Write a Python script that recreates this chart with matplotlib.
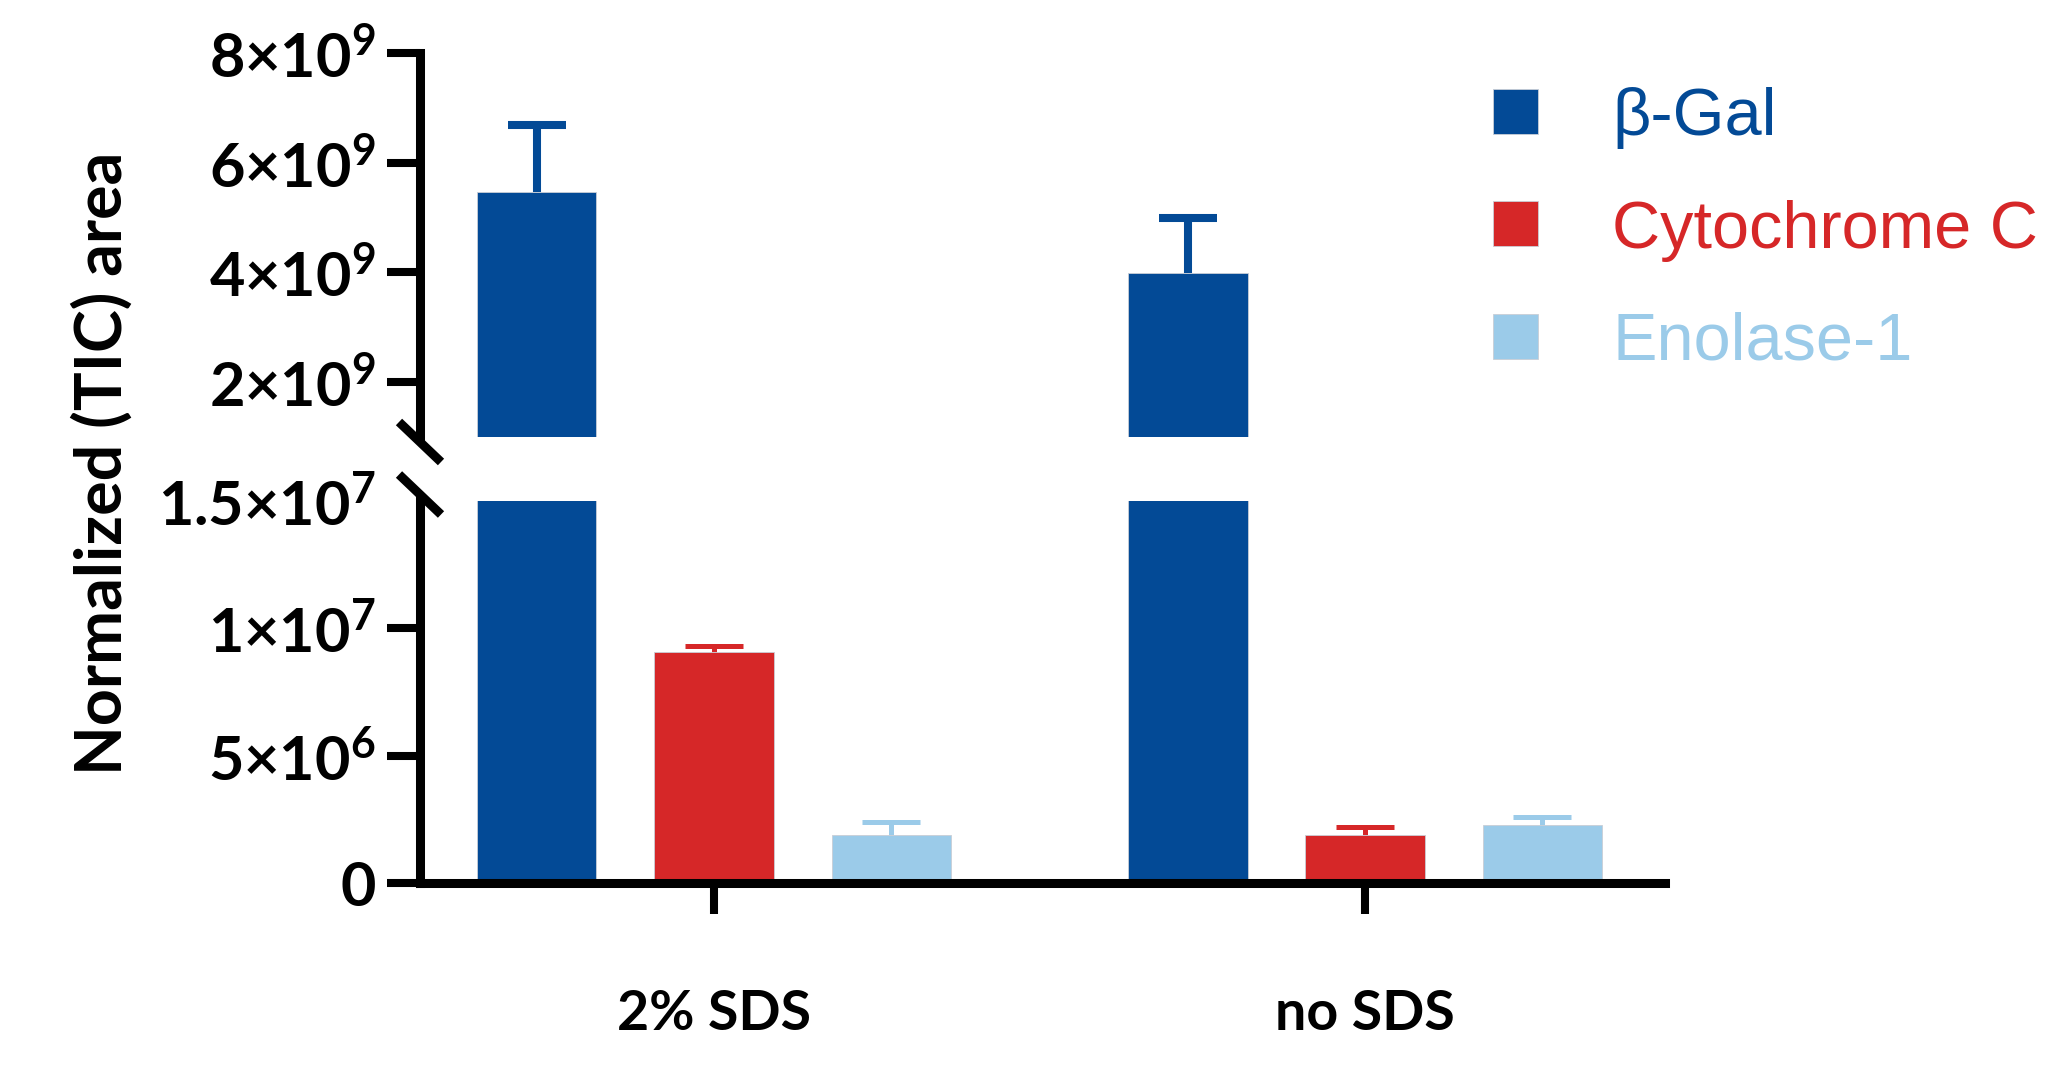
import matplotlib
matplotlib.use('Agg')
from matplotlib import pyplot as plt
from matplotlib.patches import Rectangle
import numpy as np

# group labels and series
groups = ['2% SDS', 'no SDS']
series = ['β-Gal', 'Cytochrome C', 'Enolase-1']
colors = ['#034a96', '#d62728', '#9bcbe9']

# mean and upper SEM for each series, per group
gal_mean = [5.47e9, 3.99e9]
gal_err = [1.21e9, 1.00e9]
cyt_mean = [9.07e6, 1.89e6]
cyt_err = [0.23e6, 0.30e6]
eno_mean = [1.89e6, 2.28e6]
eno_err = [0.52e6, 0.30e6]

means = [gal_mean, cyt_mean, eno_mean]
errs = [gal_err, cyt_err, eno_err]

# y ticks for the two halves of the broken axis
top_ticks = [2e9, 4e9, 6e9, 8e9]
top_labels = [r'$2{\times}10^{9}$', r'$4{\times}10^{9}$', r'$6{\times}10^{9}$', r'$8{\times}10^{9}$']
bot_ticks = [0, 5e6, 1e7, 1.5e7]
bot_labels = [r'$0$', r'$5{\times}10^{6}$', r'$1{\times}10^{7}$', r'$1.5{\times}10^{7}$']

plt.rcParams['font.family'] = ['Lato', 'DejaVu Sans']
plt.rcParams['font.weight'] = 'bold'
plt.rcParams['mathtext.fontset'] = 'custom'
plt.rcParams['mathtext.rm'] = 'Lato:bold'
plt.rcParams['mathtext.it'] = 'Lato:bold'
plt.rcParams['mathtext.bf'] = 'Lato:bold'

W, H = 2048, 1070
fig = plt.figure(figsize=(W / 100, H / 100), dpi=100)

# axes boxes in pixels: x 420..1665, top half 53..437, bottom half 501..883
def box(x0, x1, y0, y1):
    return [x0 / W, 1 - y1 / H, (x1 - x0) / W, (y1 - y0) / H]

ax_top = fig.add_axes(box(420, 1665, 53, 437))
ax_bot = fig.add_axes(box(420, 1665, 501, 883))

x = np.arange(len(groups))
bar_w = 0.183
pitch = 0.272
lw = 6.5

for ax in (ax_top, ax_bot):
    for i, (m, e, c) in enumerate(zip(means, errs, colors)):
        xi = x + (i - 1) * pitch
        m = np.array(m)
        e = np.array(e)
        ax.bar(xi, m, width=bar_w, color=c, edgecolor='#c9ced6', linewidth=0.6, zorder=2)
        ew = 5.8 if i == 0 else 3.6
        # upper error only: stem plus a cap at the top end
        ax.errorbar(xi, m, yerr=[np.zeros(len(e)), e], fmt='none', ecolor=c,
                    elinewidth=ew, capsize=0, zorder=1)
        ax.plot(xi, m + e, ls='none', marker='_', ms=42, mew=ew, color=c, zorder=1)
    ax.set_xlim(-0.4516, 1.4608)
    for s in ['top', 'right']:
        ax.spines[s].set_visible(False)
    ax.spines['left'].set_linewidth(lw)
    ax.spines['bottom'].set_linewidth(lw)
    ax.tick_params(axis='y', length=24, width=5.8, pad=8, labelsize=44)
    ax.tick_params(axis='x', length=22, width=5.8, pad=54, labelsize=40)

ax_top.set_ylim(1e9, 8e9)
ax_top.spines['bottom'].set_visible(False)
ax_top.set_xticks([])
ax_top.set_yticks(top_ticks, labels=top_labels)

ax_bot.set_ylim(0, 1.5e7)
ax_bot.set_yticks(bot_ticks, labels=bot_labels)
ax_bot.yaxis.get_major_ticks()[-1].tick1line.set_visible(False)
ax_bot.set_xticks(x, labels=groups)

# break marks on the y axis
dx = 21 / 1245
dy_top = 20 / 384
dy_bot = 20 / 382
ax_top.plot([-dx, dx], [dy_top - 0.013, -dy_top - 0.013], transform=ax_top.transAxes,
            color='black', lw=lw, clip_on=False, solid_capstyle='butt')
ax_bot.plot([-dx, dx], [1 + dy_bot + 0.017, 1 - dy_bot + 0.017], transform=ax_bot.transAxes,
            color='black', lw=lw, clip_on=False, solid_capstyle='butt')

fig.text(102 / W, 1 - 463 / H, 'Normalized (TIC) area', rotation=90,
         ha='center', va='center', fontsize=46.5, fontweight='bold')

# legend: coloured squares with coloured names
for i, (name, c) in enumerate(zip(series, colors)):
    yc = 111 + i * 112.5
    fig.patches.append(Rectangle((1493 / W, 1 - (yc + 22.5) / H), 45 / W, 45 / H,
                                 transform=fig.transFigure, facecolor=c,
                                 edgecolor='#c9ced6', linewidth=0.6))
    fig.text(1612 / W, 1 - (yc + 24) / H, name, color=c, fontsize=48,
             fontweight='normal', family=['Liberation Sans', 'DejaVu Sans'],
             ha='left', va='baseline')

plt.savefig('out.png', dpi=100)
